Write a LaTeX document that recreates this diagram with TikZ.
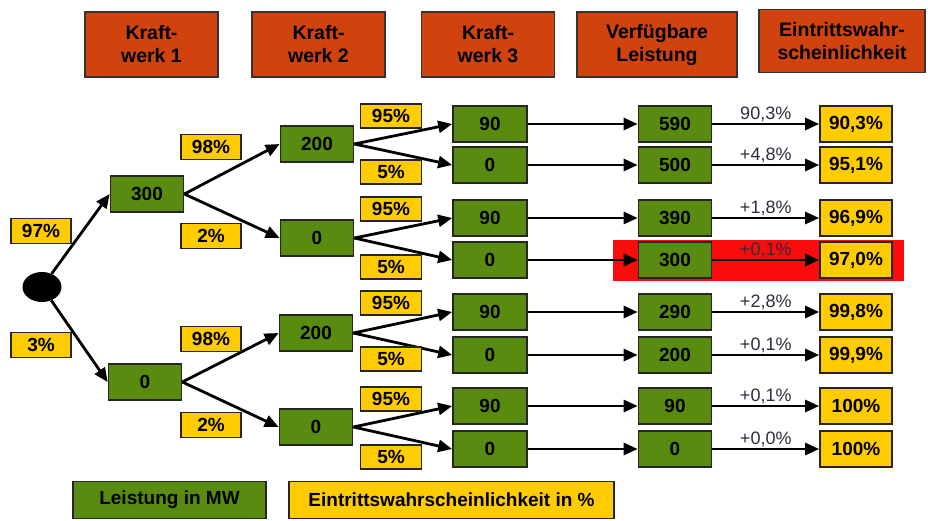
\documentclass[tikz,border=0pt]{standalone}
\usepackage{fontspec}
\setmainfont{Liberation Sans}
\usepackage{tikz}
\usetikzlibrary{shapes.geometric, arrows.meta, positioning}
\definecolor{kwred}{RGB}{208,66,14}
\definecolor{mwgreen}{RGB}{88,139,16}
\definecolor{pctyellow}{RGB}{255,204,0}
\definecolor{hired}{RGB}{250,12,12}
\definecolor{labelgray}{RGB}{45,45,60}

\begin{document}
\begin{tikzpicture}[
				x=1pt, y=-1pt,
				head/.style={rectangle, draw=black!80, fill=kwred, line width=1.5pt, inner sep=0pt,
					minimum width=133pt, minimum height=65pt, align=center,
					font=\fontsize{19.5}{23}\selectfont\bfseries},
				mw/.style={rectangle, draw=black!85, fill=mwgreen, line width=1.7pt, inner sep=0pt,
					minimum width=73pt, minimum height=36pt, font=\fontsize{19}{22}\selectfont\bfseries},
				res/.style={mw, fill=pctyellow, minimum width=72pt},
				pct/.style={rectangle, draw=black!85, fill=pctyellow, line width=1.7pt, inner sep=0pt,
					minimum width=60pt, minimum height=25pt, font=\fontsize{19}{22}\selectfont\bfseries},
				arrow/.style={-{Triangle[length=14pt, width=12pt]}, line width=2.8pt, color=black},
				elabel/.style={font=\fontsize{18}{20}\selectfont, color=labelgray, inner sep=1pt}
				]
				\useasboundingbox (0,0) rectangle (928,520);
				\fill[hired] (613,240) rectangle (904,281);

				% Kopfzeile
				\node[head] (kw1) at (151.5,44.5) {Kraft-\\werk 1};
				\node[head] (kw2) at (318.5,44.5) {Kraft-\\werk 2};
				\node[head] (kw3) at (488,44.5) {Kraft-\\werk 3};
				\node[head, minimum width=160pt] (verf) at (657,44.5) {Verfügbare\\Leistung};
				\node[head, minimum width=166pt, minimum height=63pt] (eintr) at (842,41) {Eintrittswahr-\\scheinlichkeit};

				% Baum
				\node[ellipse, fill=black, minimum width=39pt, minimum height=30pt, inner sep=0pt] (root) at (42,287) {};
				\node[mw] (k1a) at (147,194) {300};
				\node[mw] (k1b) at (145,382) {0};
				\node[mw] (k2a) at (317,144) {200};
				\node[mw] (k2b) at (317,238) {0};
				\node[mw] (k2c) at (316,333) {200};
				\node[mw] (k2d) at (316,427) {0};
				\node[mw, minimum width=74pt] (k3a) at (490,124) {90};
				\node[mw, minimum width=74pt] (k3b) at (490,165) {0};
				\node[mw, minimum width=74pt] (k3c) at (490,218) {90};
				\node[mw, minimum width=74pt] (k3d) at (490,260) {0};
				\node[mw, minimum width=74pt] (k3e) at (490,312) {90};
				\node[mw, minimum width=74pt] (k3f) at (490,355) {0};
				\node[mw, minimum width=74pt] (k3g) at (490,406) {90};
				\node[mw, minimum width=74pt] (k3h) at (490,449) {0};

				\node[mw] (sum1) at (675,124) {590};
				\node[mw] (sum2) at (675,165) {500};
				\node[mw] (sum3) at (675,218) {390};
				\node[mw] (sum4) at (675,260) {300};
				\node[mw] (sum5) at (675,312) {290};
				\node[mw] (sum6) at (675,355) {200};
				\node[mw] (sum7) at (675,406) {90};
				\node[mw] (sum8) at (675,449) {0};

				\node[res] (res1) at (856,124) {90,3\%};
				\node[res] (res2) at (856,165) {95,1\%};
				\node[res] (res3) at (856,218) {96,9\%};
				\node[res] (res4) at (856,260) {97,0\%};
				\node[res] (res5) at (856,312) {99,8\%};
				\node[res] (res6) at (856,355) {99,9\%};
				\node[res] (res7) at (856,406) {100\%};
				\node[res] (res8) at (856,449) {100\%};

				\draw[arrow] (root) -- (k1a.west);
				\draw[arrow] (root) -- (k1b.west);
				\draw[arrow] (k1a.east) -- (k2a.west);
				\draw[arrow] (k1a.east) -- (k2b.west);
				\draw[arrow] (k1b.east) -- (k2c.west);
				\draw[arrow] (k1b.east) -- (k2d.west);
				\draw[arrow] (k2a.east) -- (k3a.west);
				\draw[arrow] (k2a.east) -- (k3b.west);
				\draw[arrow] (k2b.east) -- (k3c.west);
				\draw[arrow] (k2b.east) -- (k3d.west);
				\draw[arrow] (k2c.east) -- (k3e.west);
				\draw[arrow] (k2c.east) -- (k3f.west);
				\draw[arrow] (k2d.east) -- (k3g.west);
				\draw[arrow] (k2d.east) -- (k3h.west);

				\draw[arrow] (k3a.east) -- (sum1.west);
				\draw[arrow] (k3b.east) -- (sum2.west);
				\draw[arrow] (k3c.east) -- (sum3.west);
				\draw[arrow] (k3d.east) -- (sum4.west);
				\draw[arrow] (k3e.east) -- (sum5.west);
				\draw[arrow] (k3f.east) -- (sum6.west);
				\draw[arrow] (k3g.east) -- (sum7.west);
				\draw[arrow] (k3h.east) -- (sum8.west);

				\draw[arrow] (sum1.east) -- node[elabel, above] {90,3\%} (res1.west);
				\draw[arrow] (sum2.east) -- node[elabel, above] {+4,8\%} (res2.west);
				\draw[arrow] (sum3.east) -- node[elabel, above] {+1,8\%} (res3.west);
				\draw[arrow] (sum4.east) -- node[elabel, above] {+0,1\%} (res4.west);
				\draw[arrow] (sum5.east) -- node[elabel, above] {+2,8\%} (res5.west);
				\draw[arrow] (sum6.east) -- node[elabel, above] {+0,1\%} (res6.west);
				\draw[arrow] (sum7.east) -- node[elabel, above] {+0,1\%} (res7.west);
				\draw[arrow] (sum8.east) -- node[elabel, above] {+0,0\%} (res8.west);

				% Wahrscheinlichkeiten
				\node[pct] (q97) at (41,231) {97\%};
				\node[pct] (q3) at (41,345) {3\%};
				\node[pct] (q98a) at (211,147) {98\%};
				\node[pct] (q2a) at (211,236) {2\%};
				\node[pct] (q98b) at (211,339) {98\%};
				\node[pct] (q2b) at (211,425) {2\%};
				\node[pct, minimum width=61pt, minimum height=24pt] (q95a) at (391,116) {95\%};
				\node[pct, minimum width=61pt, minimum height=24pt] (q5a) at (391,172) {5\%};
				\node[pct, minimum width=61pt, minimum height=24pt] (q95b) at (391,209) {95\%};
				\node[pct, minimum width=61pt, minimum height=24pt] (q5b) at (391,267) {5\%};
				\node[pct, minimum width=61pt, minimum height=24pt] (q95c) at (391,303) {95\%};
				\node[pct, minimum width=61pt, minimum height=24pt] (q5c) at (391,359) {5\%};
				\node[pct, minimum width=61pt, minimum height=24pt] (q95d) at (391,399) {95\%};
				\node[pct, minimum width=61pt, minimum height=24pt] (q5d) at (391,457) {5\%};

				% Legende
				\node[mw, minimum width=193pt, minimum height=37pt] (legmw) at (169.5,500) {Leistung in MW};
				\node[pct, minimum width=325pt, minimum height=37pt] (legpct) at (451.5,500) {Eintrittswahrscheinlichkeit in \%};
			\end{tikzpicture}
\end{document}
